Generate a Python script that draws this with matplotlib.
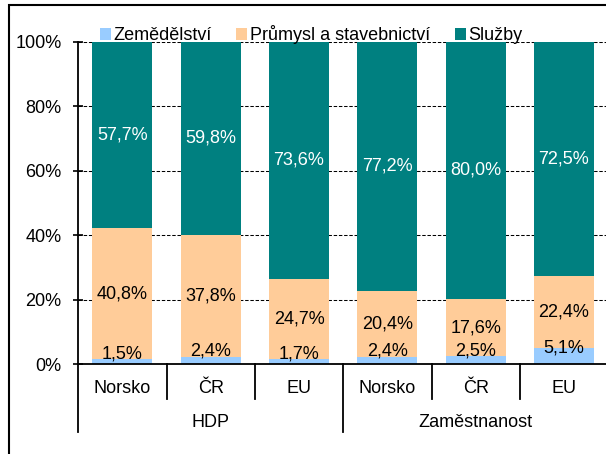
import matplotlib.pyplot as plt
from matplotlib.patches import Rectangle
import matplotlib.transforms as mtransforms
import numpy as np

# struktura HDP a zamestnanosti podle sektoru (%)
categories = ["Norsko", "ČR", "EU", "Norsko", "ČR", "EU"]
groups = ["HDP", "Zaměstnanost"]
zemedelstvi = [1.5, 2.4, 1.7, 2.4, 2.5, 5.1]
prumysl = [40.8, 37.8, 24.7, 20.4, 17.6, 22.4]
sluzby = [57.7, 59.8, 73.6, 77.2, 80.0, 72.5]
series_names = ["Zemědělství", "Průmysl a stavebnictví", "Služby"]
colors = ["#99CCFF", "#FFCC99", "#008080"]

plt.rcParams['font.family'] = ['Liberation Sans', 'DejaVu Sans']
plt.rcParams['font.size'] = 13

fig = plt.figure(figsize=(6.06, 4.54), dpi=100)
ax = fig.add_axes([0.1292, 0.1976, 0.8743, 0.7106])

x = np.arange(len(categories))
w = 0.68
z = np.array(zemedelstvi)
p = np.array(prumysl)
s = np.array(sluzby)

b1 = ax.bar(x, z, w, color=colors[0], label=series_names[0], zorder=2)
b2 = ax.bar(x, p, w, bottom=z, color=colors[1], label=series_names[1], zorder=2)
b3 = ax.bar(x, s, w, bottom=z + p, color=colors[2], label=series_names[2], zorder=2)

def fmt(v):
    return ("%.1f%%" % v).replace(".", ",")

for i in range(len(x)):
    ax.text(x[i], min(z[i] + 1.6, 5.1), fmt(z[i]), ha='center', va='center', zorder=3)
    ax.text(x[i], z[i] + p[i] / 2, fmt(p[i]), ha='center', va='center', zorder=3)
    ax.text(x[i], z[i] + p[i] + s[i] / 2, fmt(s[i]), ha='center', va='center',
            color='white', zorder=3)

ax.set_xlim(-0.5, len(x) - 0.5)
ax.set_ylim(0, 100)
ax.set_yticks([0, 20, 40, 60, 80, 100])
ax.set_yticklabels(["0%", "20%", "40%", "60%", "80%", "100%"])
ax.tick_params(axis='y', direction='inout', length=7, width=1.2, pad=8.5)
ax.set_xticks([])
ax.yaxis.grid(True, color='black', linestyle=(0, (3.3, 1.7)), linewidth=0.75)
ax.set_axisbelow(True)

for side in ['top', 'right']:
    ax.spines[side].set_visible(False)
ax.spines['left'].set_linewidth(1.3)
ax.spines['bottom'].set_linewidth(1.3)

# category / group labels and separators under the axis
trans = mtransforms.blended_transform_factory(ax.transData, ax.transAxes)
h = 322.6
for i, c in enumerate(categories):
    ax.text(x[i], -(393.3 - 364.3) / h, c, ha='center', va='baseline', transform=trans)
for j, g in enumerate(groups):
    ax.text(1 + 3 * j, -(426.7 - 364.3) / h, g, ha='center', va='baseline', transform=trans)
for xs in [0.5, 1.5, 3.5, 4.5]:
    ax.plot([xs, xs], [0, -(399 - 364.3) / h], color='black', lw=1.3,
            transform=trans, clip_on=False)
for xs in [-0.5, 2.5, 5.5]:
    ax.plot([xs, xs], [0, -(431.7 - 364.3) / h], color='black', lw=1.3,
            transform=trans, clip_on=False)

fig.legend(handles=[b1, b2, b3], loc='center left', bbox_to_anchor=(99.7 / 606, 1 - 35 / 454),
           ncol=3, frameon=False, borderpad=0, borderaxespad=0, handlelength=0.6,
           handleheight=0.6, handletextpad=0.15, columnspacing=1.38, fontsize=13)

# chart frame (cut off at right and bottom)
fig.patches.append(Rectangle((8.7 / 606, -0.2), 1.5, 1.2 - 4.5 / 454, fill=False,
                             edgecolor='black', lw=1.5, transform=fig.transFigure,
                             figure=fig))

plt.savefig("out.png", dpi=100)
